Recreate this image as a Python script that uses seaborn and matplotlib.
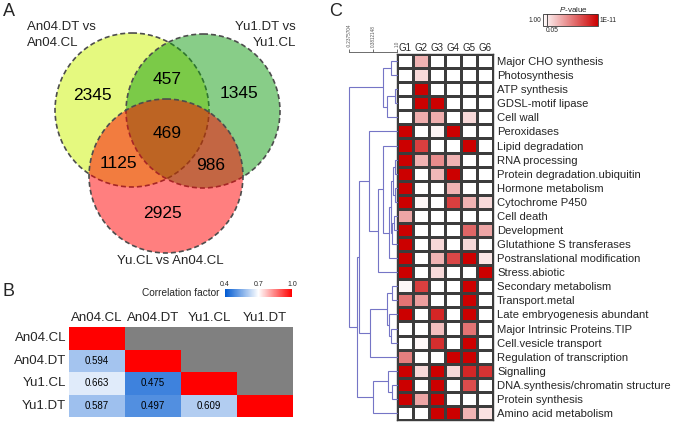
import numpy as np
import pandas as pd
import matplotlib
matplotlib.use('Agg')
import matplotlib.pyplot as plt
import seaborn as sns
from matplotlib.patches import Circle
from matplotlib.colors import LinearSegmentedColormap, to_rgba

# ------------------------------------------------------------------ data
venn_set_names = ['An04.DT vs\nAn04.CL', 'Yu1.DT vs\nYu1.CL', 'Yu.CL vs An04.CL']
venn_regions = ['A', 'AB', 'B', 'ABC', 'AC', 'BC', 'C']
venn_counts = [2345, 457, 1345, 469, 1125, 986, 2925]

corr_samples = ['An04.CL', 'An04.DT', 'Yu1.CL', 'Yu1.DT']
corr_row0 = [1.0, np.nan, np.nan, np.nan]
corr_row1 = [0.594, 1.0, np.nan, np.nan]
corr_row2 = [0.663, 0.475, 1.0, np.nan]
corr_row3 = [0.587, 0.497, 0.609, 1.0]
corr_ticks = [0.4, 0.7, 1.0]

mapman_categories = [
    'Major CHO synthesis', 'Photosynthesis', 'ATP synthesis', 'GDSL-motif lipase',
    'Cell wall', 'Peroxidases', 'Lipid degradation', 'RNA processing',
    'Protein degradation.ubiquitin', 'Hormone metabolism', 'Cytochrome P450',
    'Cell death', 'Development', 'Glutathione S transferases',
    'Postranslational modification', 'Stress.abiotic', 'Secondary metabolism',
    'Transport.metal', 'Late embryogenesis abundant', 'Major Intrinsic Proteins.TIP',
    'Cell.vesicle transport', 'Regulation of transcription', 'Signalling',
    'DNA.synthesis/chromatin structure', 'Protein synthesis', 'Amino acid metabolism']
groups = ['G1', 'G2', 'G3', 'G4', 'G5', 'G6']
# enrichment strength (0 = P >= 0.05 ... 1 = P <= 1E-11)
G1 = [0, 0, 0, 0, 0, 1, 1, 1, 1, 1, 1, 0.35, 1, 1, 1, 1, 0.03, 0.55, 1, 0, 0, 0.5, 1, 1, 1, 0]
G2 = [0.3, 0.15, 1, 1, 0.32, 0, 0.75, 0.3, 0, 0, 0.03, 0, 0, 0, 0, 0, 0.75, 0.38, 0, 0, 0.03, 0, 0.15, 0, 0.35, 0]
G3 = [0, 0, 0, 1, 0.32, 0.04, 0, 0.45, 0.28, 0, 0, 0, 0, 0.15, 0.3, 0.15, 0, 0, 0.85, 0.25, 0.82, 0, 1, 1, 1, 1]
G4 = [0, 0, 0, 0, 0, 1, 0, 0.3, 1, 0.3, 0.75, 0, 0, 0, 0.72, 0, 0, 0, 0, 0, 0, 1, 0.15, 0, 0, 1]
G5 = [0, 0, 0, 0, 0.15, 0, 1, 0, 0, 0, 0.3, 0, 0.6, 0.15, 1, 0, 1, 1, 1, 0.55, 1, 1, 0.85, 0.7, 0, 0.3]
G6 = [0, 0, 0, 0, 0, 0, 0, 0, 0, 0, 0.15, 0, 0.35, 0, 0.1, 1, 0, 0, 0, 0, 0, 0, 0.8, 0, 0, 0.12]

# dendrogram merges: (child a, child b, similarity); leaves 0..25, new nodes 26..
dendro_merges = [
    (0, 1, 0.845), (2, 3, 0.948), (27, 4, 0.742), (26, 28, 0.639),
    (7, 8, 0.961), (9, 10, 0.948), (30, 31, 0.897), (11, 12, 0.923),
    (33, 13, 0.871), (32, 34, 0.845), (35, 14, 0.794), (6, 36, 0.639),
    (37, 15, 0.510), (5, 38, 0.278), (16, 17, 0.871), (19, 20, 0.845),
    (18, 41, 0.794), (40, 42, 0.742), (43, 21, 0.304), (39, 44, 0.020),
    (23, 24, 0.871), (22, 46, 0.768), (47, 25, 0.381), (45, 48, -0.031),
    (29, 49, -0.2375704)]
dendro_ticks = [-0.2375704, 0.3812148, 1.0]
dendro_tick_labels = ['-0.2375704', '0.3812148', '1.0']

# ------------------------------------------------------------------ style
sns.set_theme(style='white')
plt.rcParams['font.family'] = ['Liberation Sans', 'DejaVu Sans']
plt.rcParams['mathtext.fontset'] = 'custom'
plt.rcParams['mathtext.it'] = 'Liberation Sans:italic'
plt.rcParams['mathtext.rm'] = 'Liberation Sans'

W, H = 675, 425
fig = plt.figure(figsize=(W / 100, H / 100), dpi=100)
fig.patch.set_facecolor('white')


def px_axes(x0, y0, x1, y1):
    return fig.add_axes([x0 / W, 1 - y1 / H, (x1 - x0) / W, (y1 - y0) / H])


def ftext(x, y, s, **kw):
    return fig.text(x / W, 1 - y / H, s, **kw)


# ------------------------------------------------------------------ A: Venn
axA = px_axes(0, 0, 320, 280)
axA.set_xlim(0, 320)
axA.set_ylim(280, 0)
axA.axis('off')
circles = [((132, 110), 77, '#cdf500'), ((203, 111), 77, '#139d13'), ((166, 176), 77, '#ff0000')]
for (cx, cy), r, col in circles:
    axA.add_patch(Circle((cx, cy), r, facecolor=to_rgba(col, 0.5), edgecolor='#4d4d4d',
                         lw=1.2, ls=(0, (3, 1.8))))
count_pos = [(92, 95), (167, 80), (239, 94), (167, 133), (118, 164), (211, 166), (163, 214)]
for (x, y), c in zip(count_pos, venn_counts):
    axA.text(x, y, str(c), ha='center', va='center', fontsize=12.5, color='black')
axA.text(27, 35, venn_set_names[0], ha='left', va='center', fontsize=9.5, linespacing=1.5)
axA.text(296, 35, venn_set_names[1], ha='right', va='center', fontsize=9.5, linespacing=1.5,
         multialignment='right')
axA.text(170, 261, venn_set_names[2], ha='center', va='center', fontsize=9.5)

# ------------------------------------------------------------------ B: correlation
axB = px_axes(69, 327, 293, 417)
caxB = px_axes(225, 289, 292, 297)
corr_matrix = np.array([corr_row0, corr_row1, corr_row2, corr_row3])
dfB = pd.DataFrame(corr_matrix, index=corr_samples, columns=corr_samples)
annot = np.array([['' if (i == j or np.isnan(v)) else f'{v:.3f}'
                   for j, v in enumerate(row)] for i, row in enumerate(corr_matrix)])
corr_cmap = LinearSegmentedColormap.from_list('corr', ['#005ad2', '#ffffff', '#ff0000'])
sns.heatmap(dfB, ax=axB, cmap=corr_cmap, vmin=0.4, vmax=1.0, annot=annot, fmt='',
            annot_kws=dict(fontsize=7, color='black'), linewidths=0,
            cbar_ax=caxB, cbar_kws=dict(orientation='horizontal', ticks=corr_ticks))
cbB = axB.collections[0].colorbar
axB.set_facecolor('#808080')
axB.xaxis.tick_top()
axB.set_xlabel('')
axB.set_ylabel('')
axB.tick_params(axis='both', length=0, labelsize=9.5, pad=2)
plt.setp(axB.get_yticklabels(), rotation=0)
plt.setp(axB.get_xticklabels(), rotation=0)
caxB.xaxis.set_ticks_position('top')
caxB.set_xticks(corr_ticks)
caxB.set_xticklabels([f'{t:.1f}' for t in corr_ticks])
caxB.tick_params(axis='x', labelsize=5, length=0, pad=1)
cbB.outline.set_visible(False)
ftext(219, 293, 'Correlation factor', ha='right', va='center', fontsize=7.3)

# ------------------------------------------------------------------ C: heatmap
axC = px_axes(397, 54, 493, 420)
caxC = px_axes(543, 14, 598, 26)
dfC = pd.DataFrame({'G1': G1, 'G2': G2, 'G3': G3, 'G4': G4, 'G5': G5, 'G6': G6},
                   index=mapman_categories)[groups]
pcmap = LinearSegmentedColormap.from_list('pval', ['#ffffff', '#cc0000'])
sns.heatmap(dfC, ax=axC, cmap=pcmap, vmin=0, vmax=1, linewidths=1.0, linecolor='#3c3c3c',
            xticklabels=groups, yticklabels=mapman_categories,
            cbar_ax=caxC, cbar_kws=dict(orientation='horizontal'))
cbC = axC.collections[0].colorbar
axC.xaxis.tick_top()
axC.yaxis.tick_right()
axC.set_xlabel('')
axC.set_ylabel('')
axC.tick_params(axis='x', length=0, labelsize=7, pad=1)
axC.tick_params(axis='y', length=0, labelsize=8.1, pad=3, labelright=True, labelleft=False)
plt.setp(axC.get_yticklabels(), rotation=0)
plt.setp(axC.get_xticklabels(), rotation=0)
for s in axC.spines.values():
    s.set_visible(True)
    s.set_color('#3c3c3c')
    s.set_linewidth(1.0)

caxC.set_xticks([])
cbC.outline.set_linewidth(0.6)
cbC.outline.set_edgecolor('#333333')
caxC.axvline(0.07, color='#333333', lw=0.6)
ftext(541, 20.5, '1.00', ha='right', va='center', fontsize=4.8)
ftext(599.5, 20.5, '1E-11', ha='left', va='center', fontsize=4.8)
ftext(546, 30, '0.05', ha='left', va='center', fontsize=4.8)
ftext(573, 9.5, r'$\mathit{P}$-value', ha='center', va='center', fontsize=5.8)

# dendrogram
axD = px_axes(349, 54, 397, 420)
axD.set_facecolor('none')
axD.set_xlim(dendro_ticks[0], 1.0)
axD.set_ylim(len(mapman_categories), 0)
pos = {i: (1.0, i + 0.5) for i in range(len(mapman_categories))}
n_leaf = len(mapman_categories)
for k, (a, b, h) in enumerate(dendro_merges):
    xa, ya = pos[a]
    xb, yb = pos[b]
    axD.plot([xa, h, h, xb], [ya, ya, yb, yb], color='#7575c6', lw=0.8, clip_on=False,
             solid_joinstyle='miter')
    pos[n_leaf + k] = (h, (ya + yb) / 2)
for side in ['left', 'right', 'bottom']:
    axD.spines[side].set_visible(False)
axD.spines['top'].set_position(('outward', 1.5))
axD.spines['top'].set_linewidth(0.6)
axD.spines['top'].set_color('#555555')
axD.set_yticks([])
axD.xaxis.tick_top()
axD.set_xticks(dendro_ticks)
axD.set_xticklabels(dendro_tick_labels, rotation=90, fontsize=3.3)
axD.tick_params(axis='x', direction='out', length=2.5, width=0.6, pad=1, colors='#555555')
axD.grid(False)

# ------------------------------------------------------------------ panel letters
ftext(3, 11, 'A', ha='left', va='center', fontsize=13)
ftext(3, 291, 'B', ha='left', va='center', fontsize=13)
ftext(329, 11, 'C', ha='left', va='center', fontsize=13)

fig.savefig('out.png', dpi=100, facecolor='white')
